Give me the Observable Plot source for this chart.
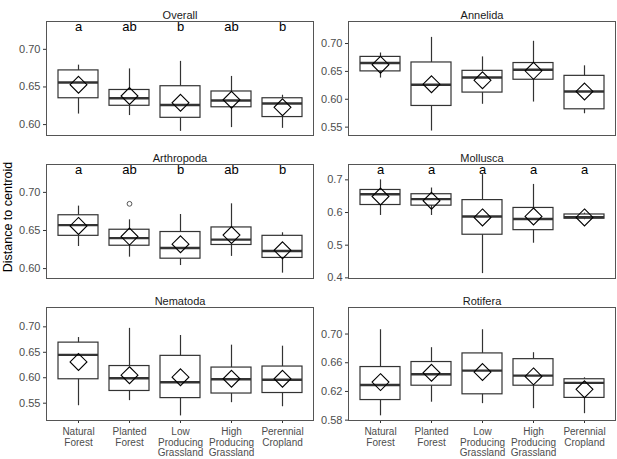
<!DOCTYPE html>
<html>
<head>
<meta charset="utf-8">
<script src="https://cdn.jsdelivr.net/npm/d3@7"></script>
<script src="https://cdn.jsdelivr.net/npm/@observablehq/plot@0.6"></script>
<style>
  html, body { margin: 0; padding: 0; background: #fff; }
  #chart { position: relative; width: 617px; height: 459px; font-family: "Liberation Sans", Arial, Helvetica, sans-serif; }
  #chart svg { position: absolute; overflow: visible; }
  #ylab { position: absolute; left: 8px; top: 217px; transform: translate(-50%, -50%) rotate(-90deg); white-space: nowrap; font-size: 12.5px; color: #000; }
</style>
</head>
<body>
<div id="chart"><div id="ylab">Distance to centroid</div></div>
<script>
// ---- Data ----
const habitats = ["Natural Forest", "Planted Forest", "Low Producing Grassland", "High Producing Grassland", "Perennial Cropland"];
const habitatLabels = ["Natural\nForest", "Planted\nForest", "Low\nProducing\nGrassland", "High\nProducing\nGrassland", "Perennial\nCropland"];

// each row: [lower whisker, Q1, median, Q3, upper whisker, mean]
const overall = [
  [0.614, 0.635, 0.656, 0.672, 0.679, 0.653],
  [0.612, 0.625, 0.635, 0.646, 0.674, 0.638],
  [0.591, 0.609, 0.626, 0.651, 0.684, 0.629],
  [0.596, 0.623, 0.632, 0.644, 0.664, 0.633],
  [0.595, 0.610, 0.628, 0.635, 0.639, 0.623]
];
const annelida = [
  [0.638, 0.650, 0.665, 0.676, 0.683, 0.662],
  [0.543, 0.588, 0.626, 0.666, 0.711, 0.627],
  [0.591, 0.612, 0.639, 0.651, 0.676, 0.634],
  [0.595, 0.635, 0.653, 0.665, 0.704, 0.651],
  [0.574, 0.582, 0.614, 0.642, 0.660, 0.614]
];
const arthropoda = [
  [0.629, 0.643, 0.657, 0.670, 0.682, 0.656],
  [0.615, 0.630, 0.640, 0.651, 0.664, 0.642],
  [0.604, 0.613, 0.627, 0.648, 0.671, 0.632],
  [0.616, 0.631, 0.638, 0.654, 0.685, 0.644],
  [0.594, 0.614, 0.623, 0.643, 0.647, 0.624]
];
const mollusca = [
  [0.591, 0.623, 0.656, 0.669, 0.700, 0.649],
  [0.591, 0.621, 0.641, 0.656, 0.675, 0.636],
  [0.413, 0.532, 0.588, 0.638, 0.716, 0.585],
  [0.506, 0.546, 0.580, 0.614, 0.686, 0.588],
  [0.578, 0.581, 0.586, 0.594, 0.598, 0.585]
];
const nematoda = [
  [0.545, 0.597, 0.645, 0.669, 0.679, 0.631],
  [0.555, 0.574, 0.599, 0.623, 0.697, 0.605],
  [0.525, 0.560, 0.591, 0.643, 0.683, 0.601],
  [0.551, 0.569, 0.597, 0.620, 0.664, 0.598],
  [0.543, 0.570, 0.596, 0.622, 0.662, 0.598]
];
const rotifera = [
  [0.586, 0.608, 0.629, 0.654, 0.706, 0.633],
  [0.605, 0.628, 0.644, 0.661, 0.681, 0.646],
  [0.603, 0.616, 0.649, 0.673, 0.706, 0.647],
  [0.596, 0.628, 0.642, 0.665, 0.674, 0.641],
  [0.589, 0.611, 0.632, 0.637, 0.639, 0.623]
];

const overallLetters = ["a", "ab", "b", "ab", "b"];
const arthropodaLetters = ["a", "ab", "b", "ab", "b"];
const molluscaLetters = ["a", "a", "a", "a", "a"];
const letterY = 0.73;

const arthropodaOutlierHabitat = ["Planted Forest"];
const arthropodaOutlierValue = [0.685];

const overallTicks = [0.60, 0.65, 0.70];
const annelidaTicks = [0.55, 0.60, 0.65, 0.70];
const arthropodaTicks = [0.60, 0.65, 0.70];
const molluscaTicks = [0.4, 0.5, 0.6, 0.7];
const nematodaTicks = [0.55, 0.60, 0.65, 0.70];
const rotiferaTicks = [0.58, 0.62, 0.66, 0.70];

// ---- Layout ----
const font = "'Liberation Sans', Arial, Helvetica, sans-serif";
const panels = [
  {title: "Overall", stats: overall, letters: overallLetters, ticks: overallTicks, fmt: ".2f", domain: [0.5855, 0.737], col: 0, row: 0},
  {title: "Annelida", stats: annelida, letters: null, ticks: annelidaTicks, fmt: ".2f", domain: [0.535, 0.7395], col: 1, row: 0},
  {title: "Arthropoda", stats: arthropoda, letters: arthropodaLetters, ticks: arthropodaTicks, fmt: ".2f", domain: [0.587, 0.7366], col: 0, row: 1,
   outliers: arthropodaOutlierHabitat.map((h, i) => ({habitat: h, value: arthropodaOutlierValue[i]}))},
  {title: "Mollusca", stats: mollusca, letters: molluscaLetters, ticks: molluscaTicks, fmt: ".1f", domain: [0.398, 0.747], col: 1, row: 1},
  {title: "Nematoda", stats: nematoda, letters: null, ticks: nematodaTicks, fmt: ".2f", domain: [0.516, 0.738], col: 0, row: 2},
  {title: "Rotifera", stats: rotifera, letters: null, ticks: rotiferaTicks, fmt: ".2f", domain: [0.5795, 0.737], col: 1, row: 2}
];

const colGeom = [
  {left: 0, width: 314, marginLeft: 46, marginRight: 1},
  {left: 314, width: 303, marginLeft: 34, marginRight: 2}
];
const rowGeom = [
  {top: 0, marginTop: 21, inner: 114, marginBottom: 4},
  {top: 143, marginTop: 21, inner: 114, marginBottom: 4},
  {top: 286, marginTop: 21, inner: 113, marginBottom: 39}
];

const chart = document.getElementById("chart");

for (const p of panels) {
  const cg = colGeom[p.col], rg = rowGeom[p.row];
  const rows = habitats.map((h, i) => ({
    habitat: h,
    low: p.stats[i][0], q1: p.stats[i][1], median: p.stats[i][2],
    q3: p.stats[i][3], high: p.stats[i][4], mean: p.stats[i][5],
    letter: p.letters ? p.letters[i] : null,
    ly: letterY
  }));
  const bottom = p.row === 2;
  const marks = [
    Plot.axisY({ticks: p.ticks, tickFormat: d3.format(p.fmt), tickSize: 3, tickPadding: 3, fontSize: 11, fill: "#4d4d4d", stroke: "#333", label: null}),
    Plot.ruleX(rows, {x: "habitat", y1: "low", y2: "high", stroke: "#333", strokeWidth: 1.2}),
    Plot.barY(rows, {x: "habitat", y1: "q1", y2: "q3", fill: "white", stroke: "#333", strokeWidth: 1.2}),
    Plot.tickY(rows, {x: "habitat", y: "median", stroke: "#333", strokeWidth: 2.4}),
    Plot.dot(rows, {x: "habitat", y: "mean", symbol: "diamond2", r: 7.6, stroke: "#000", fill: "none", strokeWidth: 1.1})
  ];
  if (bottom) {
    marks.unshift(Plot.axisX({tickSize: 3, tickPadding: 4, fontSize: 10, lineHeight: 1.07, fill: "#4d4d4d", stroke: "#333", label: null,
      tickFormat: d => habitatLabels[habitats.indexOf(d)]}));
  }
  if (p.outliers) {
    marks.push(Plot.dot(p.outliers, {x: "habitat", y: "value", r: 2.4, stroke: "#555", fill: "none", strokeWidth: 1}));
  }
  if (p.letters) {
    marks.push(Plot.text(rows, {x: "habitat", y: "ly", text: "letter", fontSize: 13, fill: "#000"}));
  }
  marks.push(Plot.frame({stroke: "#555", strokeWidth: 1}));
  marks.push(Plot.text([p.title], {frameAnchor: "top", dy: -10.5, fontSize: 11, fill: "#1a1a1a"}));

  const svg = Plot.plot({
    width: cg.width,
    height: rg.marginTop + rg.inner + rg.marginBottom,
    marginLeft: cg.marginLeft,
    marginRight: cg.marginRight,
    marginTop: rg.marginTop,
    marginBottom: rg.marginBottom,
    style: {fontFamily: font, background: "transparent", overflow: "visible"},
    x: {type: "band", domain: habitats, paddingInner: 0.22, paddingOuter: 0.19, axis: null, label: null},
    y: {domain: p.domain, axis: null, label: null},
    marks
  });
  svg.style.left = cg.left + "px";
  svg.style.top = rg.top + "px";
  chart.appendChild(svg);
}
</script>
</body>
</html>
